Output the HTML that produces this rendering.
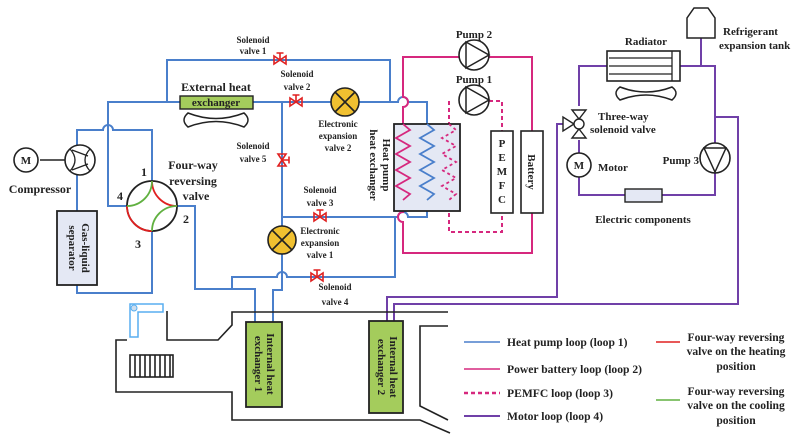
<!DOCTYPE html>
<html><head><meta charset="utf-8"><style>
html,body{margin:0;padding:0;background:#fff;}
svg{display:block;}
text{font-family:"Liberation Serif",serif;font-weight:bold;fill:#222;}
.s{font-size:9px;}
.m{font-size:11px;}
.g{font-size:11.6px;}
.l{font-size:12px;}
</style></head><body>
<svg width="799" height="444" viewBox="0 0 799 444" xmlns="http://www.w3.org/2000/svg">
<defs>
<g id="sv"><path d="M-6,-4 L6,4 L6,-4 L-6,4 Z" fill="none" stroke="#e02020" stroke-width="1.6"/><path d="M0,0 V-7 M-3.5,-7 H3.5" stroke="#e02020" stroke-width="1.6"/></g>
<g id="eev"><circle r="14" fill="#f0c030" stroke="#222" stroke-width="1.6"/><path d="M-10,-10 L10,10 M10,-10 L-10,10" stroke="#222" stroke-width="1.6"/></g>
</defs>
<g fill="none" stroke="#4a7fcb" stroke-width="2">
<path d="M167,102 V60 H390 V102"/>
<path d="M127,206 H108 V102 H180"/>
<path d="M253,102 H398 a5,5 0 0 1 10,0 H427 V124"/>
<path d="M77,145 V130 H103 a5,5 0 0 1 10,0 H152 V181"/>
<path d="M77,175 V211 M77,285 V293 H152 V231"/>
<path d="M177,206 H195 V289 H255 V322"/>
<path d="M232,289 V277 H277 a5,5 0 0 1 10,0 H395 V217"/>
<path d="M282,102 V290 H273 V322"/>
<path d="M282,217 H398 a5,5 0 0 1 10,0 H427 V211"/>
<path d="M40,160 H66" stroke="#222" stroke-width="1.6"/>
</g>
<circle cx="152" cy="206" r="25" fill="#fff" stroke="#222" stroke-width="1.8"/>
<path d="M152,181 A25,25 0 0 0 177,206 M127,206 A25,25 0 0 0 152,231" fill="none" stroke="#e02020" stroke-width="1.8"/>
<path d="M127,206 A25,25 0 0 0 152,181 M177,206 A25,25 0 0 0 152,231" fill="none" stroke="#60b040" stroke-width="1.8"/>
<circle cx="80" cy="160" r="15" fill="#fff" stroke="#222" stroke-width="1.6"/>
<path d="M70,149 Q80,160 70,171 M90,149 Q80,160 90,171 M72,150 L88,156 M72,170 L88,164" fill="none" stroke="#222" stroke-width="1.3"/>
<circle cx="26" cy="160" r="12" fill="#fff" stroke="#222" stroke-width="1.6"/>
<text x="26" y="164" class="m" text-anchor="middle">M</text>
<rect x="57" y="211" width="40" height="74" fill="#e4e8f4" stroke="#222" stroke-width="1.8"/>
<text transform="translate(82,248) rotate(90)" class="m" text-anchor="middle">Gas-liquid</text>
<text transform="translate(69,248) rotate(90)" class="m" text-anchor="middle">separator</text>
<rect x="180" y="96" width="73" height="13" fill="#a4cc5c" stroke="#222" stroke-width="1.4"/>
<text x="216" y="106" class="m" text-anchor="middle">exchanger</text>
<path d="M188,113 Q216,124 244,113 Q252,120 244,127 Q216,116 188,127 Q180,120 188,113Z" fill="none" stroke="#222" stroke-width="1.5"/>
<use href="#sv" x="280" y="60"/>
<use href="#sv" x="296" y="102"/>
<use href="#sv" x="320" y="217"/>
<use href="#sv" x="317" y="277"/>
<use href="#sv" transform="translate(282,160) rotate(90)"/>
<use href="#eev" x="345" y="102"/>
<use href="#eev" x="282" y="240"/>
<g fill="none" stroke="#d6287e" stroke-width="2">
<path d="M403,124 V107 a5,5 0 0 0 0,-10 V57 H459"/>
<path d="M489,57 H532 V131"/>
<path d="M403,210 V212 a5,5 0 0 0 0,10 V253 H532 V213"/>
<path d="M449,101 V232 H502 V213 M489,101 H502 V131" stroke-dasharray="4,3"/>
</g>
<rect x="394" y="124" width="66" height="87" fill="#e4e8f4" stroke="#222" stroke-width="1.8"/>
<path d="M403,124 l7,6 l-14,8 l14,8 l-14,8 l14,8 l-14,8 l14,8 l-14,8 l14,8 l-7,6" fill="none" stroke="#d6287e" stroke-width="1.8"/>
<path d="M427,124 l7,6 l-14,8 l14,8 l-14,8 l14,8 l-14,8 l14,8 l-14,8 l14,8 l-7,6" fill="none" stroke="#4a7fcb" stroke-width="1.8"/>
<path d="M449,124 l7,6 l-14,8 l14,8 l-14,8 l14,8 l-14,8 l14,8 l-14,8 l14,8 l-7,6" fill="none" stroke="#d6287e" stroke-width="1.8" stroke-dasharray="3,3"/>
<text transform="translate(383,165) rotate(90)" class="m" text-anchor="middle">Heat pump</text>
<text transform="translate(370,165) rotate(90)" class="m" text-anchor="middle">heat exchanger</text>
<circle cx="474" cy="55" r="15" fill="#fff" stroke="#222" stroke-width="1.6"/>
<path d="M466,42 L489,55 L466,68 Z" fill="none" stroke="#222" stroke-width="1.5"/>
<circle cx="474" cy="100" r="15" fill="#fff" stroke="#222" stroke-width="1.6"/>
<path d="M466,87 L489,100 L466,113 Z" fill="none" stroke="#222" stroke-width="1.5"/>
<rect x="491" y="131" width="22" height="82" fill="#fff" stroke="#222" stroke-width="1.6"/>
<rect x="521" y="131" width="22" height="82" fill="#fff" stroke="#222" stroke-width="1.6"/>
<g class="m" text-anchor="middle"><text x="502" y="147">P</text><text x="502" y="161">E</text><text x="502" y="175">M</text><text x="502" y="189">F</text><text x="502" y="203">C</text></g>
<text transform="translate(528,172) rotate(90)" class="m" text-anchor="middle">Battery</text>
<g fill="none" stroke="#7040a8" stroke-width="2">
<path d="M579,106 V66 H607 M680,66 H715 V143 M715,173 V195 H662 M625,195 H579 V177 M579,153 V140"/>
<path d="M701,38 V66"/>
<path d="M565,124 H557 V297 H387 V321"/>
<path d="M715,117 H738 V304 H394 V321"/>
</g>
<rect x="607" y="51" width="73" height="30" fill="#fff" stroke="#222" stroke-width="1.6"/>
<path d="M609,58 H672 M609,66 H672 M609,74 H672 M672,51 V81" stroke="#222" stroke-width="1.3"/>
<path d="M620,87 Q646,97 672,87 Q680,93 672,100 Q646,90 620,100 Q612,93 620,87Z" fill="none" stroke="#222" stroke-width="1.5"/>
<path d="M687,38 V18 L694,8 H708 L715,18 V38 Z" fill="#fff" stroke="#222" stroke-width="1.5"/>
<g fill="#fff" stroke="#222" stroke-width="1.4">
<path d="M572,110 H586 L579,119 Z"/><path d="M572,138 H586 L579,129 Z"/><path d="M563,117 V131 L574,124 Z"/>
<circle cx="579" cy="124" r="5"/>
</g>
<circle cx="579" cy="165" r="12" fill="#fff" stroke="#222" stroke-width="1.6"/>
<text x="579" y="169" class="m" text-anchor="middle">M</text>
<rect x="625" y="189" width="37" height="13" fill="#e4e8f4" stroke="#222" stroke-width="1.4"/>
<circle cx="715" cy="158" r="15" fill="#fff" stroke="#222" stroke-width="1.6"/>
<path d="M704,148 H726 L715,172 Z" fill="none" stroke="#222" stroke-width="1.5"/>
<g fill="none" stroke="#222" stroke-width="1.6">
<path d="M448,312 H232 V325 L218,340 H167 V311"/>
<path d="M127,340 H116 V392 H232 V420 H420 L450,433"/>
<path d="M448,326 H420 V406 L448,420"/>
<rect x="130" y="355" width="43" height="22"/>
<path d="M135,355 V377 M140,355 V377 M145,355 V377 M150,355 V377 M155,355 V377 M160,355 V377 M165,355 V377 M170,355 V377"/>
</g>
<path d="M130,304 H163 V312 H138 V337 H130 Z" fill="#fff" stroke="#58aef0" stroke-width="1.5"/>
<circle cx="134" cy="308" r="3" fill="#cde" stroke="#58aef0"/>
<rect x="246" y="322" width="36" height="85" fill="#a4cc5c" stroke="#222" stroke-width="1.8"/>
<rect x="369" y="321" width="34" height="92" fill="#a4cc5c" stroke="#222" stroke-width="1.8"/>
<text transform="translate(267,364) rotate(90)" class="m" text-anchor="middle">Internal heat</text>
<text transform="translate(255,364) rotate(90)" class="m" text-anchor="middle">exchanger 1</text>
<text transform="translate(390,367) rotate(90)" class="m" text-anchor="middle">Internal heat</text>
<text transform="translate(378,367) rotate(90)" class="m" text-anchor="middle">exchanger 2</text>
<path d="M464,342 H500" stroke="#4a7fcb" stroke-width="1.6"/>
<path d="M464,369 H500" stroke="#d6287e" stroke-width="1.6"/>
<path d="M464,393 H500" stroke="#d6287e" stroke-width="2.4" stroke-dasharray="4,3"/>
<path d="M464,416 H500" stroke="#7040a8" stroke-width="2"/>
<path d="M656,342 H680" stroke="#e02020" stroke-width="1.6"/>
<path d="M656,400 H680" stroke="#60b040" stroke-width="1.6"/>
<g class="g">
<text x="507" y="346">Heat pump loop (loop 1)</text>
<text x="507" y="373">Power battery loop (loop 2)</text>
<text x="507" y="397">PEMFC loop (loop 3)</text>
<text x="507" y="420">Motor loop (loop 4)</text>
</g>
<g class="g" text-anchor="middle">
<text x="736" y="341">Four-way reversing</text>
<text x="736" y="355">valve on the heating</text>
<text x="736" y="370">position</text>
<text x="736" y="395">Four-way reversing</text>
<text x="736" y="409">valve on the  cooling</text>
<text x="736" y="424">position</text>
</g>
<g class="s" text-anchor="middle">
<text x="253" y="43">Solenoid</text><text x="253" y="54">valve 1</text>
<text x="297" y="77">Solenoid</text><text x="297" y="90">valve 2</text>
<text x="338" y="127">Electronic</text><text x="338" y="139">expansion</text><text x="338" y="151">valve 2</text>
<text x="253" y="149">Solenoid</text><text x="253" y="162">valve 5</text>
<text x="320" y="193">Solenoid</text><text x="320" y="206">valve 3</text>
<text x="320" y="234">Electronic</text><text x="320" y="246">expansion</text><text x="320" y="258">valve 1</text>
<text x="335" y="290">Solenoid</text><text x="335" y="305">valve 4</text>
</g>
<g class="l" text-anchor="middle">
<text x="216" y="91">External heat</text>
<text x="193" y="169">Four-way</text><text x="193" y="185">reversing</text><text x="196" y="200">valve</text>
<text x="40" y="193">Compressor</text>
<text x="144" y="176">1</text><text x="120" y="200">4</text><text x="186" y="223">2</text><text x="138" y="248">3</text>
</g>
<g class="m" text-anchor="middle">
<text x="474" y="38">Pump 2</text><text x="474" y="83">Pump 1</text>
<text x="646" y="45">Radiator</text>
<text x="643" y="223">Electric components</text>
</g>
<g class="m">
<text x="723" y="35">Refrigerant</text><text x="719" y="49">expansion tank</text>
<text x="598" y="120">Three-way</text><text x="590" y="133">solenoid valve</text>
<text x="598" y="171">Motor</text>
<text x="699" y="164" text-anchor="end">Pump 3</text>
</g>
</svg>
</body></html>
